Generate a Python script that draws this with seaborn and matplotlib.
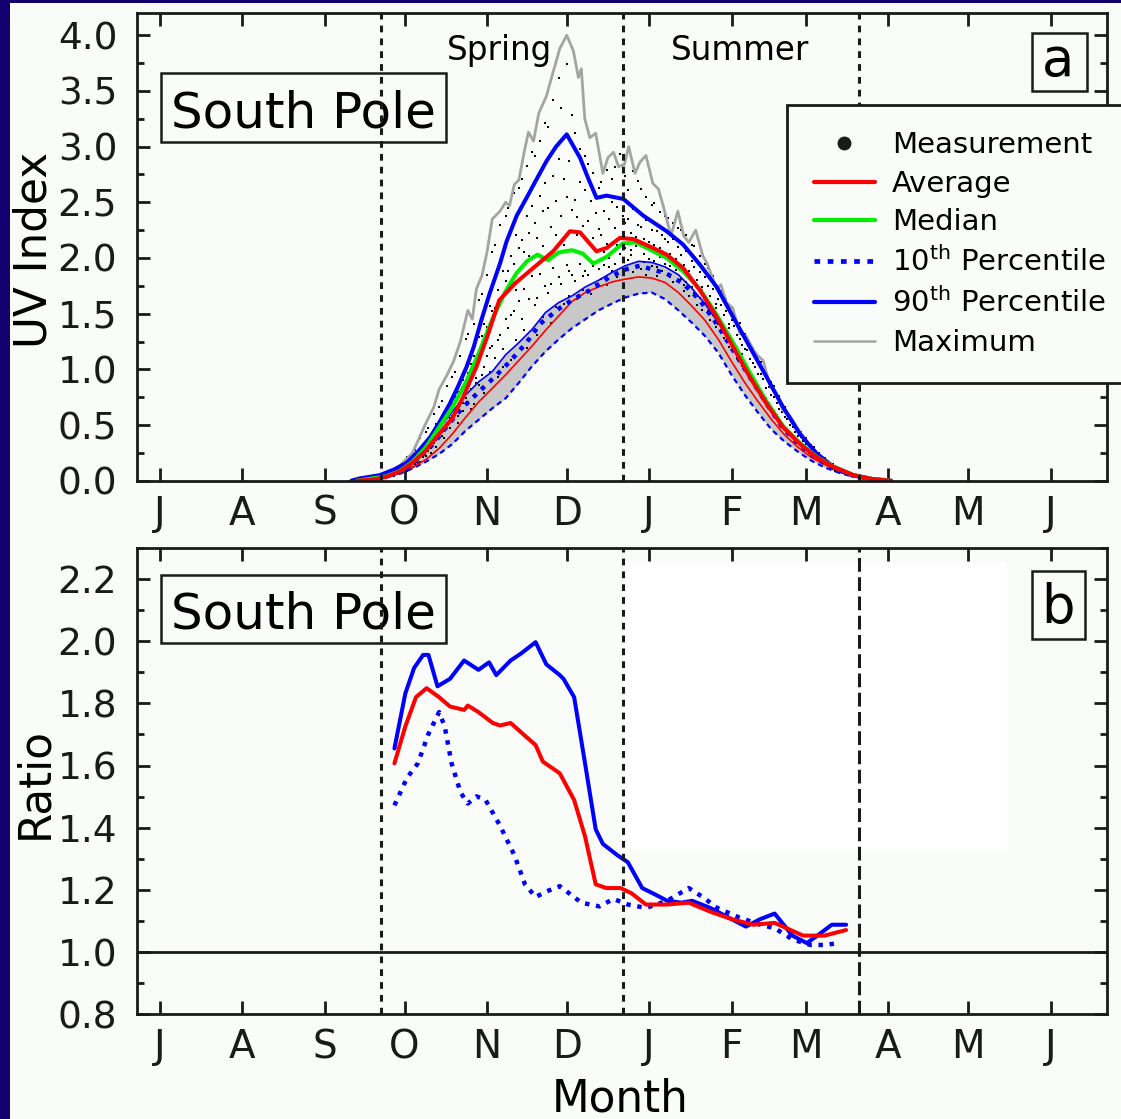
import numpy as np
import pandas as pd
import seaborn as sns
import matplotlib.pyplot as plt
from matplotlib.lines import Line2D
from matplotlib.patches import Rectangle
from matplotlib.ticker import MultipleLocator, FixedLocator, NullLocator

# x axis = days counted from 1 July
month_start = [0, 31, 62, 92, 123, 153, 184, 215, 243, 274, 304, 335]
month_labels = ['J', 'A', 'S', 'O', 'N', 'D', 'J', 'F', 'M', 'A', 'M', 'J']
season_days = [83, 174, 263]

# ---- panel a: measured UV index (with ozone hole) ----
avg_day = [74, 80, 85, 90, 95, 100, 105, 110, 114, 119, 123.5, 127.6, 133.5, 140.4, 147.9,
           154.2, 158, 164.2, 168, 173, 178, 185.5, 190.6, 196.8, 203.1, 209.4, 215.6,
           221.9, 228.2, 234.4, 240.7, 247, 253.3, 260.8, 268, 275]
avg_uv = [0.0, 0.01, 0.035, 0.08, 0.16, 0.27, 0.42, 0.56, 0.75, 1.02, 1.32, 1.62, 1.77, 1.91,
          2.06, 2.24, 2.23, 2.06, 2.09, 2.18, 2.17, 2.09, 2.03, 1.91, 1.71, 1.47, 1.20, 0.93,
          0.69, 0.48, 0.33, 0.21, 0.125, 0.05, 0.015, 0.0]

med_day = [74, 85, 90, 95, 100, 105, 110, 115, 120, 125, 130, 134, 138, 142, 146, 150, 155,
           159, 163, 168, 174, 179, 185.5, 190.6, 196.8, 203.1, 209.4, 215.6, 221.9, 228.2,
           234.4, 240.7, 247, 253.3, 260.8, 268, 275]
med_uv = [0.0, 0.04, 0.085, 0.17, 0.30, 0.48, 0.66, 0.88, 1.15, 1.45, 1.70, 1.86, 1.97, 2.03,
          1.98, 2.05, 2.07, 2.04, 1.95, 2.01, 2.13, 2.14, 2.06, 2.00, 1.88, 1.72, 1.49, 1.24,
          0.97, 0.71, 0.49, 0.34, 0.215, 0.128, 0.05, 0.015, 0.0]

p90_day = [72, 75, 82.7, 88, 92.8, 97, 101.6, 105, 109, 112, 115.3, 118, 121, 124, 127.9,
           130.4, 134.2, 137.9, 141.5, 145.4, 149, 153, 158, 161, 164.2, 168, 174.3, 181.8,
           190.6, 196.8, 203.1, 209.4, 215.6, 221.9, 228.2, 234.4, 240.7, 247, 253.3, 260.8,
           268, 275]
p90_uv = [0.0, 0.02, 0.05, 0.10, 0.16, 0.26, 0.39, 0.52, 0.69, 0.84, 1.02, 1.20, 1.45, 1.68,
          1.95, 2.15, 2.38, 2.54, 2.70, 2.87, 3.00, 3.11, 2.90, 2.72, 2.54, 2.56, 2.53, 2.38,
          2.24, 2.12, 1.94, 1.74, 1.47, 1.20, 0.93, 0.66, 0.42, 0.245, 0.125, 0.05, 0.015, 0.0]

p10_day = [76, 85, 92, 97, 102.8, 109, 114, 120, 125.4, 131.6, 137.9, 143, 150.4, 155.5, 161.7,
           169.2, 175.5, 180.5, 190.6, 196.8, 203.1, 209.4, 215.6, 221.9, 228.2, 234.4, 240.7,
           247, 253.3, 260, 268, 275]
p10_uv = [0.0, 0.035, 0.10, 0.19, 0.33, 0.52, 0.66, 0.80, 0.92, 1.07, 1.24, 1.41, 1.55, 1.63,
          1.71, 1.83, 1.90, 1.93, 1.86, 1.77, 1.62, 1.41, 1.17, 0.93, 0.69, 0.47, 0.32, 0.20,
          0.115, 0.05, 0.012, 0.0]

max_day = [84, 90, 95, 99.7, 103, 105, 108, 110.4, 113, 115.8, 117.5, 119, 121.1, 123, 125,
           127.9, 130, 131.5, 133.3, 135, 137, 138.6, 140.5, 142.5, 145.3, 147.9, 150.4, 153,
           155.5, 157.4, 158.5, 159.8, 161.7, 163.9, 166.6, 168.5, 170.6, 172.5, 174.7, 176.3,
           178.7, 180.5, 182.8, 185.4, 187.5, 189.5, 192.2, 194.8, 197, 198.9, 201.5, 204.2,
           206, 209.4, 211, 213.1, 215.5, 218.1, 220.5, 223.1, 225, 226.9, 229.4, 232, 234.4,
           237, 240.7, 244, 247, 250, 253.3, 258, 264, 268]
max_uv = [0.05, 0.13, 0.25, 0.50, 0.66, 0.82, 0.95, 1.07, 1.25, 1.53, 1.45, 1.72, 1.84, 2.05,
          2.35, 2.42, 2.50, 2.47, 2.66, 2.70, 2.95, 3.13, 3.05, 3.30, 3.45, 3.67, 3.88, 4.00,
          3.86, 3.62, 3.70, 3.25, 3.08, 3.12, 2.76, 2.90, 2.95, 2.82, 2.84, 3.00, 2.76, 2.86,
          2.92, 2.67, 2.62, 2.45, 2.20, 2.42, 2.20, 2.14, 2.25, 2.02, 1.94, 1.72, 1.76, 1.60,
          1.55, 1.32, 1.30, 1.18, 1.12, 1.08, 0.86, 0.76, 0.63, 0.58, 0.44, 0.33, 0.25, 0.19,
          0.13, 0.07, 0.03, 0.015]

# ---- panel a: estimate without ozone hole (thin lines + grey band) ----
pre_day = [76, 83, 90, 95, 100, 105, 110, 115, 120, 125, 130, 135, 140, 145, 150, 155, 160,
           165, 170, 175, 180, 185, 190, 195, 200, 205, 210, 215, 220, 225, 230, 235, 240, 245,
           250, 255, 260, 268, 275]
pre_avg = [0.0, 0.04, 0.08, 0.12, 0.19, 0.29, 0.42, 0.57, 0.71, 0.83, 0.95, 1.08, 1.21, 1.35,
           1.48, 1.61, 1.69, 1.74, 1.785, 1.81, 1.83, 1.82, 1.78, 1.69, 1.57, 1.44, 1.27, 1.07,
           0.88, 0.71, 0.55, 0.41, 0.30, 0.21, 0.145, 0.09, 0.05, 0.015, 0.0]
pre_p90 = [0.0, 0.05, 0.11, 0.19, 0.32, 0.47, 0.62, 0.77, 0.89, 0.98, 1.13, 1.24, 1.36, 1.51,
           1.60, 1.66, 1.74, 1.80, 1.87, 1.93, 1.97, 1.96, 1.92, 1.85, 1.73, 1.59, 1.42, 1.23,
           1.00, 0.81, 0.63, 0.46, 0.34, 0.24, 0.165, 0.10, 0.055, 0.015, 0.0]
pre_p10 = [0.0, 0.02, 0.06, 0.11, 0.17, 0.24, 0.33, 0.45, 0.55, 0.65, 0.74, 0.88, 1.03, 1.16,
           1.27, 1.37, 1.45, 1.53, 1.59, 1.645, 1.68, 1.69, 1.63, 1.53, 1.42, 1.30, 1.15, 0.95,
           0.77, 0.61, 0.46, 0.35, 0.26, 0.18, 0.12, 0.075, 0.04, 0.01, 0.0]

# ---- panel a: individual measurements (three per day, days 86..268) ----
meas_days = list(range(86, 269))
meas_a = [.03, .05, .04, .06, .07, .08, .10, .09, .13, .12, .15, .19, .17, .24, .22,
          .27, .25, .34, .30, .41, .40, .38, .52, .47, .58, .60, .52, .68, .63, .74,
          .71, .82, .69, .92, .86, .95, .79, 1.12, .98, 1.21, 1.10, .93, 1.31, 1.18, 1.45,
          1.37, 1.08, 1.52, 1.26, 1.61, 1.45, 1.72, 1.19, 1.63, 1.84, 1.58, 1.31, 1.86, 1.47, 1.75,
          1.69, 1.42, 1.91, 1.56, 1.83, 1.77, 1.59, 1.94, 1.66, 1.85, 1.79, 1.63, 1.95, 1.71, 1.88,
          1.85, 1.68, 1.93, 1.77, 1.90, 1.81, 1.94, 1.76, 2.00, 1.88, 1.95, 1.83, 2.04, 1.90, 2.09,
          1.98, 2.07, 1.87, 2.11, 1.94, 1.90, 2.04, 1.85, 1.99, 1.93, 1.97, 1.84, 2.01, 1.88, 1.95,
          1.86, 1.93, 1.78, 1.89, 1.80, 1.81, 1.70, 1.78, 1.66, 1.74, 1.69, 1.58, 1.64, 1.53, 1.60,
          1.52, 1.44, 1.49, 1.38, 1.41, 1.35, 1.28, 1.31, 1.20, 1.23, 1.18, 1.10, 1.12, 1.03, 1.01,
          .99, .91, .93, .84, .83, .80, .73, .74, .68, .65, .62, .56, .55, .52, .48,
          .45, .43, .40, .37, .34, .32, .30, .28, .25, .24, .22, .20, .18, .17, .15,
          .14, .12, .11, .10, .085, .08, .07, .06, .05, .045, .04, .035, .03, .025, .02,
          .018, .014, .01]
meas_b = [.06, .07, .09, .08, .11, .12, .15, .17, .16, .20, .22, .25, .29, .31, .33,
          .36, .41, .44, .51, .49, .55, .62, .60, .71, .69, .75, .80, .79, .90, .88,
          .97, 1.05, 1.12, 1.10, 1.29, 1.30, 1.41, 1.38, 1.57, 1.52, 1.55, 1.71, 1.63, 1.88, 1.79,
          1.88, 2.02, 1.95, 2.21, 2.09, 2.16, 2.05, 2.38, 2.22, 2.47, 2.31, 2.18, 2.56, 2.42, 2.67,
          2.45, 2.28, 2.74, 2.51, 2.89, 2.38, 2.71, 2.55, 2.87, 2.43, 2.52, 2.37, 2.68, 2.29, 2.61,
          2.33, 2.51, 2.18, 2.40, 2.26, 2.21, 2.42, 2.13, 2.35, 2.50, 2.27, 2.46, 2.19, 2.38, 2.31,
          2.35, 2.22, 2.44, 2.19, 2.30, 2.28, 2.17, 2.34, 2.14, 2.25, 2.12, 2.24, 2.09, 2.21, 2.17,
          2.14, 2.04, 2.17, 1.99, 2.10, 2.03, 1.94, 2.06, 1.88, 1.97, 1.92, 1.80, 1.87, 1.74, 1.83,
          1.75, 1.66, 1.72, 1.59, 1.63, 1.58, 1.49, 1.52, 1.41, 1.44, 1.39, 1.31, 1.27, 1.22, 1.18,
          1.17, 1.09, 1.06, 1.02, .96, .96, .91, .83, .84, .77, .75, .70, .64, .62, .57,
          .55, .50, .48, .44, .40, .39, .36, .33, .31, .28, .27, .24, .22, .20, .18,
          .16, .15, .13, .12, .10, .095, .085, .075, .065, .055, .05, .045, .04, .035, .03,
          .025, .02, .015]
meas_c = [.05, .09, .07, .12, .09, .15, .08, .21, .11, .25, .28, .16, .38, .21, .44,
          .47, .29, .60, .37, .66, .72, .45, .85, .56, .93, .98, .58, 1.12, .70, 1.27,
          1.32, .64, 1.41, .88, 1.62, 1.68, 1.02, 1.85, 1.19, 2.05, 2.12, 1.26, 2.30, 1.02, 2.38,
          2.45, 1.49, 2.58, 1.71, 2.63, 2.71, 1.35, 2.83, 2.02, 2.95, 2.92, 1.64, 3.05, 2.11, 3.21,
          3.18, 1.77, 3.42, 2.21, 3.62, 3.35, 2.12, 3.74, 1.88, 3.28, 3.12, 2.21, 2.98, 1.84, 2.92,
          2.84, 1.96, 2.76, 2.05, 2.63, 2.68, 2.05, 2.79, 1.92, 2.71, 2.82, 2.12, 2.93, 1.99, 2.74,
          2.61, 2.03, 2.78, 2.16, 2.69, 2.62, 1.96, 2.55, 2.09, 2.48, 2.49, 1.92, 2.41, 2.06, 2.38,
          2.36, 1.83, 2.31, 1.96, 2.27, 2.25, 1.76, 2.21, 1.85, 2.12, 2.11, 1.66, 2.02, 1.71, 1.95,
          1.91, 1.50, 1.84, 1.55, 1.73, 1.70, 1.33, 1.63, 1.37, 1.55, 1.51, 1.16, 1.42, 1.14, 1.32,
          1.29, .95, 1.19, .88, 1.11, 1.07, .76, .98, .70, .89, .85, .59, .76, .50, .66,
          .62, .41, .54, .36, .46, .44, .29, .38, .26, .32, .30, .19, .25, .16, .20,
          .18, .13, .15, .09, .11, .10, .07, .08, .05, .06, .055, .04, .045, .03, .033,
          .028, .018, .012]

# ---- panel b: ratio measured / no-ozone-hole ----
r_avg_day = [88.2, 92.3, 96.3, 100.3, 105, 109.1, 114.4, 115.8, 119.8, 125.2, 127.9, 131.9,
             137.3, 141.3, 144, 150.4, 155.8, 159.9, 163.9, 167.9, 173.3, 177.4, 182.8, 190.8,
             198.9, 207, 215, 223.1, 231.2, 241.9, 250, 258.1]
r_avg = [1.607, 1.726, 1.82, 1.849, 1.82, 1.79, 1.779, 1.793, 1.772, 1.737, 1.729, 1.737, 1.696,
         1.666, 1.613, 1.575, 1.489, 1.372, 1.218, 1.206, 1.206, 1.189, 1.153, 1.153, 1.159,
         1.13, 1.106, 1.088, 1.094, 1.053, 1.053, 1.071]
r_p90_day = [88.2, 92.3, 95.6, 99, 101, 104.4, 109.1, 114.4, 119.8, 123.8, 126.5, 131.9, 135.9,
             141.3, 145.3, 150.4, 151.8, 155.8, 159.9, 163.9, 166.6, 172, 176, 181.4, 186.8,
             190.8, 196.2, 200.2, 207, 213.7, 220.4, 225.8, 231.2, 237.9, 243.3, 247.3, 252.7,
             258.1]
r_p90 = [1.655, 1.832, 1.914, 1.956, 1.956, 1.855, 1.879, 1.938, 1.908, 1.932, 1.891, 1.938,
         1.961, 1.997, 1.926, 1.891, 1.879, 1.82, 1.607, 1.395, 1.348, 1.312, 1.289, 1.206,
         1.183, 1.165, 1.159, 1.165, 1.142, 1.112, 1.082, 1.106, 1.124, 1.053, 1.029, 1.053,
         1.088, 1.088]
r_p10_day = [88.2, 92.9, 97, 101, 105, 107.1, 109.7, 113.1, 115.8, 119.1, 122.5, 127.9, 133.3,
             137.3, 141.3, 145.3, 150.4, 158.5, 165.3, 170.6, 176, 182.8, 190.8, 198.9, 204.2,
             209.6, 217.7, 225.8, 231.2, 237.9, 244.6, 250, 255.3]
r_p10 = [1.472, 1.56, 1.607, 1.702, 1.772, 1.726, 1.607, 1.513, 1.478, 1.501, 1.489, 1.407,
         1.312, 1.218, 1.177, 1.195, 1.212, 1.159, 1.147, 1.171, 1.153, 1.142, 1.165, 1.206,
         1.177, 1.142, 1.112, 1.088, 1.077, 1.041, 1.023, 1.023, 1.029]

BG = '#fafcfa'
NAVY = '#120070'
RED, GREEN, BLUE, GREY = '#ff0000', '#00ee00', '#0000ff', '#a4a4a4'
DOT = (0, (1.0, 1.5))
SEASON = (0, (2.2, 2.0))

sns.set_theme(style='ticks')
plt.rcParams['font.family'] = 'DejaVu Sans'
plt.rcParams['mathtext.fontset'] = 'dejavusans'
plt.rcParams['text.color'] = 'black'
plt.rcParams['axes.labelcolor'] = 'black'

fig = plt.figure(figsize=(11.21, 11.19), dpi=100, facecolor=BG)
ax1 = fig.add_axes([0.1219, 0.5704, 0.8658, 0.4180])
ax2 = fig.add_axes([0.1219, 0.0936, 0.8658, 0.4167])

# navy frame strips (left and top)
fig.add_artist(Rectangle((0, 0), 10 / 1121, 1, transform=fig.transFigure, color=NAVY, lw=0))
fig.add_artist(Rectangle((0, 1 - 3 / 1119), 1, 3 / 1119, transform=fig.transFigure, color=NAVY, lw=0))

# ---------------- panel a ----------------
ax1.fill_between(pre_day, pre_p10, pre_p90, color='#c8c8c8', lw=0, zorder=1)
meas = pd.DataFrame({'day': meas_days * 3, 'uv': meas_a + meas_b + meas_c})
sns.scatterplot(data=meas, x='day', y='uv', ax=ax1, color='black', marker='s', s=4,
                linewidth=0, zorder=2)
sns.lineplot(x=max_day, y=max_uv, ax=ax1, color=GREY, lw=2, zorder=3)
sns.lineplot(x=pre_day, y=pre_p10, ax=ax1, color=BLUE, lw=1.6, linestyle=(0, (2.4, 1.8)), zorder=3)
sns.lineplot(x=pre_day, y=pre_p90, ax=ax1, color=BLUE, lw=1.2, zorder=3)
sns.lineplot(x=pre_day, y=pre_avg, ax=ax1, color=RED, lw=1.2, zorder=3)
sns.lineplot(x=p10_day, y=p10_uv, ax=ax1, color=BLUE, lw=3.2, linestyle=DOT, zorder=4)
sns.lineplot(x=p90_day, y=p90_uv, ax=ax1, color=BLUE, lw=2.9, zorder=4)
sns.lineplot(x=med_day, y=med_uv, ax=ax1, color=GREEN, lw=2.9, zorder=4)
sns.lineplot(x=avg_day, y=avg_uv, ax=ax1, color=RED, lw=2.9, zorder=4)
for d in season_days:
    ax1.axvline(d, color='k', lw=2.2, ls=SEASON, zorder=6)

ax1.set_ylim(0, 4.2)
ax1.yaxis.set_major_locator(MultipleLocator(0.5))
ax1.yaxis.set_minor_locator(MultipleLocator(0.25))

ax1.text(0.3743, 0.900, 'Spring', transform=ax1.transAxes, ha='center', va='baseline', fontsize=23.5)
ax1.text(0.6215, 0.900, 'Summer', transform=ax1.transAxes, ha='center', va='baseline', fontsize=23.5)

# ---------------- panel b ----------------
ax2.add_patch(Rectangle((0.502, 0.3524), 0.3946, 0.6155, transform=ax2.transAxes,
                        color='white', lw=0, zorder=0))
ax2.axhline(1.0, color='k', lw=2, zorder=3)
sns.lineplot(x=r_p10_day, y=r_p10, ax=ax2, color=BLUE, lw=3.2, linestyle=DOT, zorder=4)
sns.lineplot(x=r_p90_day, y=r_p90, ax=ax2, color=BLUE, lw=2.9, zorder=4)
sns.lineplot(x=r_avg_day, y=r_avg, ax=ax2, color=RED, lw=2.9, zorder=4)
ax2.axvline(season_days[0], color='k', lw=2.2, ls=SEASON, zorder=6)
ax2.axvline(season_days[1], color='k', lw=2.2, ls=SEASON, zorder=6)
ax2.axvline(season_days[2], color='k', lw=2.2, ls=(0, (4.5, 1.8)), zorder=6)

ax2.set_ylim(0.8, 2.3)
ax2.yaxis.set_major_locator(MultipleLocator(0.2))
ax2.yaxis.set_minor_locator(MultipleLocator(0.1))

# ---------------- common styling ----------------
for ax in (ax1, ax2):
    ax.set_facecolor('none')
    ax.set_xlim(-8.76, 356.3)
    ax.xaxis.set_major_locator(FixedLocator(month_start))
    ax.set_xticklabels(month_labels)
    ax.xaxis.set_minor_locator(NullLocator())
    ax.yaxis.set_major_formatter('{x:.1f}')
    ax.set_xlabel('')
    ax.set_ylabel('')
    ax.tick_params(axis='both', which='both', direction='in', top=True, right=True,
                   width=2, color='k', labelcolor='k')
    ax.tick_params(which='major', length=9.5)
    ax.tick_params(which='minor', length=5)
    ax.tick_params(axis='x', labelsize=28, pad=10)
    ax.tick_params(axis='y', labelsize=27, pad=14)
    for s in ax.spines.values():
        s.set_linewidth(2)
        s.set_color('k')
        s.set_zorder(7)

# label boxes
box_kw = dict(fill=False, ec='k', lw=1.8, clip_on=False, zorder=8)
ax1.add_patch(Rectangle((0.0254, 0.7242), 0.2929, 0.1475, transform=ax1.transAxes, **box_kw))
ax1.text(0.1719, 0.7554, 'South Pole', transform=ax1.transAxes, ha='center', va='baseline', fontsize=36)
ax2.add_patch(Rectangle((0.0254, 0.7954), 0.2929, 0.1467, transform=ax2.transAxes, **box_kw))
ax2.text(0.1719, 0.8272, 'South Pole', transform=ax2.transAxes, ha='center', va='baseline', fontsize=36)
ax1.add_patch(Rectangle((0.9220, 0.8326), 0.0571, 0.1253, transform=ax1.transAxes, **box_kw))
ax1.text(0.9493, 0.8657, 'a', transform=ax1.transAxes, ha='center', va='baseline', fontsize=38)
ax2.add_patch(Rectangle((0.9220, 0.8049), 0.0550, 0.1450, transform=ax2.transAxes, **box_kw))
ax2.text(0.9493, 0.8392, 'b', transform=ax2.transAxes, ha='center', va='baseline', fontsize=38)

# axis titles
fig.text(34 / 1121, 1 - 250 / 1119, 'UV Index', rotation=90, ha='center', va='center', fontsize=31.5)
fig.text(35 / 1121, 1 - 783 / 1119, 'Ratio', rotation=90, ha='center', va='center', fontsize=31.5)
fig.text(620 / 1121, 1 - 1112 / 1119, 'Month', ha='center', va='baseline', fontsize=31.5)

# legend
handles = [Line2D([], [], ls='', marker='o', color='k', ms=9),
           Line2D([], [], color=RED, lw=3),
           Line2D([], [], color=GREEN, lw=3),
           Line2D([], [], color=BLUE, lw=3.4, ls=(0, (1.2, 1.6))),
           Line2D([], [], color=BLUE, lw=3),
           Line2D([], [], color=GREY, lw=1.8)]
labels = ['Measurement', 'Average', 'Median', r'10$^{\mathrm{th}}$ Percentile',
          r'90$^{\mathrm{th}}$ Percentile', 'Maximum']
leg = ax1.legend(handles, labels, loc='upper left', bbox_to_anchor=(787.3 / 1121, 1 - 105 / 1119),
                 bbox_transform=fig.transFigure, fontsize=21, frameon=True, fancybox=False,
                 framealpha=1, facecolor=BG, edgecolor='k', borderpad=0.9, labelspacing=0.36,
                 handlelength=2.09, handletextpad=0.6, borderaxespad=0, numpoints=1)
leg.get_frame().set_linewidth(2)
leg.set_zorder(9)
for t in leg.get_texts():
    t.set_color('black')

fig.savefig('out.png', dpi=100, facecolor=BG)
